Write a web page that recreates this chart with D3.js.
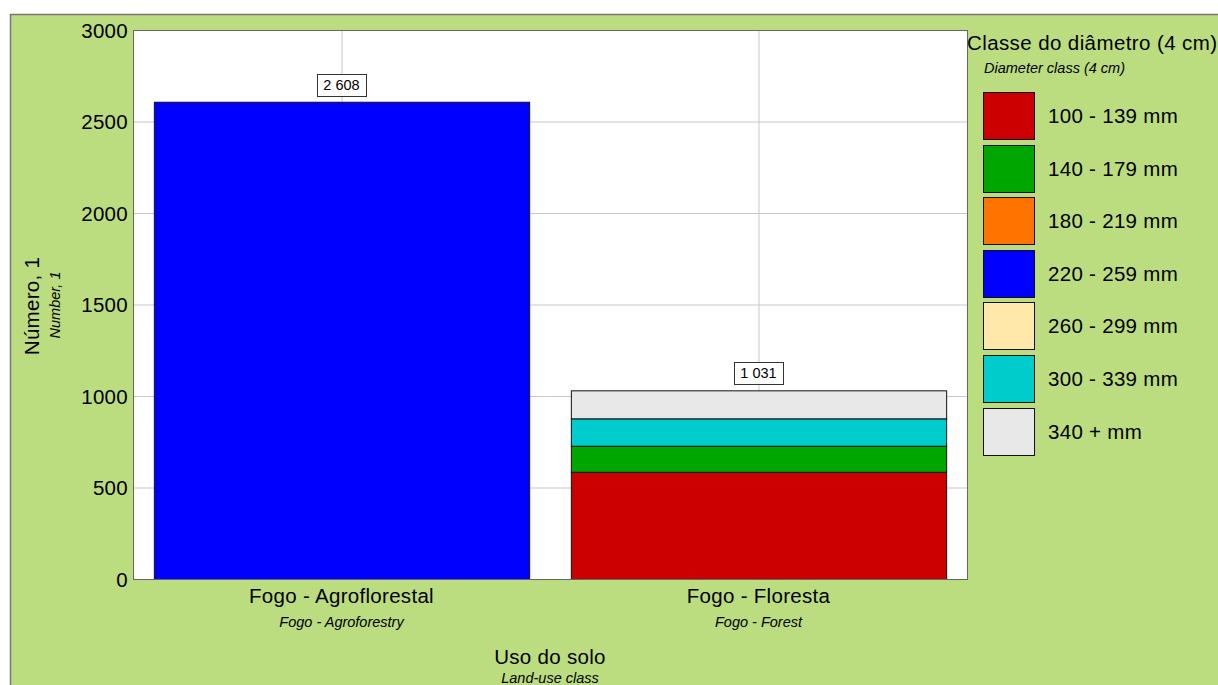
<!DOCTYPE html>
<html><head><meta charset="utf-8">
<script src="https://cdn.jsdelivr.net/npm/d3@7"></script>
<style>body{margin:0;background:#fff}svg{display:block;font-family:"Liberation Sans",Arial,sans-serif}</style>
</head><body><svg id="c" width="1218" height="685"></svg>
<script>
const categories = ["Fogo - Agroflorestal", "Fogo - Floresta"];
const categoriesEn = ["Fogo - Agroforestry", "Fogo - Forest"];
const classes = ["100 - 139 mm","140 - 179 mm","180 - 219 mm","220 - 259 mm","260 - 299 mm","300 - 339 mm","340 + mm"];
const classColors = ["#cc0000","#00a600","#ff7300","#0000ff","#ffe8aa","#00cccc","#e8e8e8"];
// values per class, for each category
const agroflorestal = [0, 0, 0, 2608, 0, 0, 0];
const floresta = [586, 142, 0, 0, 0, 150, 153];
const totalLabels = ["2 608", "1 031"];
const yTicks = [0, 500, 1000, 1500, 2000, 2500, 3000];

const svg = d3.select("#c");
const W = 1218, H = 685;
const m = {l:133, t:30, r:967, b:579};
const BIG = 20.5, SMALL = 14.5, LS = "0.3px";

svg.append("rect").attr("x",10.5).attr("y",14.5).attr("width",W+10).attr("height",H+10)
  .attr("fill","#bcdc80").attr("stroke","#777").attr("stroke-width",1.5);

const x = d3.scaleBand().domain(categories).range([m.l, m.r]).paddingInner(0.1).paddingOuter(0.05);
const xc = d3.scaleBand().domain(categories).range([m.l, m.r]);
const y = d3.scaleLinear().domain([0,3000]).range([m.b, m.t]);

svg.append("rect").attr("x",m.l).attr("y",m.t).attr("width",m.r-m.l).attr("height",m.b-m.t).attr("fill","#fff");

// grid
svg.append("g").selectAll("line").data(yTicks).join("line")
  .attr("x1",m.l).attr("x2",m.r).attr("y1",d=>y(d)+0.5).attr("y2",d=>y(d)+0.5)
  .attr("stroke","#c8c8c8").attr("stroke-width",1);
svg.append("g").selectAll("line").data(categories).join("line")
  .attr("x1",d=>xc(d)+xc.bandwidth()/2+0.5).attr("x2",d=>xc(d)+xc.bandwidth()/2+0.5)
  .attr("y1",m.t).attr("y2",m.b).attr("stroke","#c8c8c8");

// bars
const data = [agroflorestal, floresta];
categories.forEach((c,i)=>{
  let acc = 0;
  const g = svg.append("g");
  data[i].forEach((v,k)=>{
    if(v<=0) return;
    g.append("rect").attr("x",x(c)+0.5).attr("width",x.bandwidth())
      .attr("y",y(acc+v)+0.5).attr("height",y(acc)-y(acc+v))
      .attr("fill",classColors[k]).attr("stroke","#111").attr("stroke-width",1);
    acc += v;
  });
  const cx = x(c)+x.bandwidth()/2;
  const t = svg.append("text").attr("x",cx).attr("y",y(acc)-12).attr("text-anchor","middle")
    .attr("font-size",14.5).attr("fill","#000").text(totalLabels[i]);
  const bb = t.node().getBBox();
  svg.insert("rect", () => t.node()).attr("x",Math.round(cx-24.5)+0.5).attr("y",Math.round(y(acc)-28)+0.5)
    .attr("width",Math.max(49,Math.round(bb.width+10))).attr("height",22).attr("fill","#fff").attr("stroke","#333");
});

// frame
svg.append("rect").attr("x",m.l+0.5).attr("y",m.t+0.5).attr("width",m.r-m.l).attr("height",m.b-m.t)
  .attr("fill","none").attr("stroke","#666");

// y axis labels
const yAxis = d3.axisLeft(y).tickValues(yTicks).tickSize(0).tickPadding(5).tickFormat(d3.format("d"));
const ya = svg.append("g").attr("transform",`translate(${m.l},0)`).call(yAxis);
ya.select(".domain").remove();
ya.selectAll("text").attr("font-size",BIG).attr("letter-spacing",LS).attr("fill","#000").attr("font-family","Liberation Sans, Arial, sans-serif").attr("dy","0.35em");

// x labels
categories.forEach((c,i)=>{
  const cx = xc(c)+xc.bandwidth()/2;
  svg.append("text").attr("x",cx).attr("y",603).attr("text-anchor","middle").attr("font-size",BIG).attr("letter-spacing",LS).text(c);
  svg.append("text").attr("x",cx).attr("y",627).attr("text-anchor","middle").attr("font-size",SMALL).attr("font-style","italic").text(categoriesEn[i]);
});
svg.append("text").attr("x",(m.l+m.r)/2).attr("y",664).attr("text-anchor","middle").attr("font-size",BIG).attr("letter-spacing",LS).text("Uso do solo");
svg.append("text").attr("x",(m.l+m.r)/2).attr("y",683).attr("text-anchor","middle").attr("font-size",SMALL).attr("font-style","italic").text("Land-use class");

svg.append("text").attr("transform","translate(39,306) rotate(-90)").attr("text-anchor","middle").attr("font-size",BIG).attr("letter-spacing",LS).text("Número, 1");
svg.append("text").attr("transform","translate(60,305) rotate(-90)").attr("text-anchor","middle").attr("font-size",SMALL).attr("font-style","italic").text("Number, 1");

// legend
svg.append("text").attr("x",967).attr("y",50).attr("font-size",BIG).attr("letter-spacing","0.4px").text("Classe do diâmetro (4 cm)");
svg.append("text").attr("x",984).attr("y",73).attr("font-size",SMALL).attr("font-style","italic").text("Diameter class (4 cm)");
const lg = svg.append("g");
classes.forEach((c,k)=>{
  const yy = 92 + k*52.6;
  lg.append("rect").attr("x",983.5).attr("y",Math.round(yy)+0.5).attr("width",51).attr("height",47)
    .attr("fill",classColors[k]).attr("stroke","#111");
  lg.append("text").attr("x",1048).attr("y",yy+31).attr("font-size",BIG).attr("letter-spacing",LS).text(c);
});
</script></body></html>
